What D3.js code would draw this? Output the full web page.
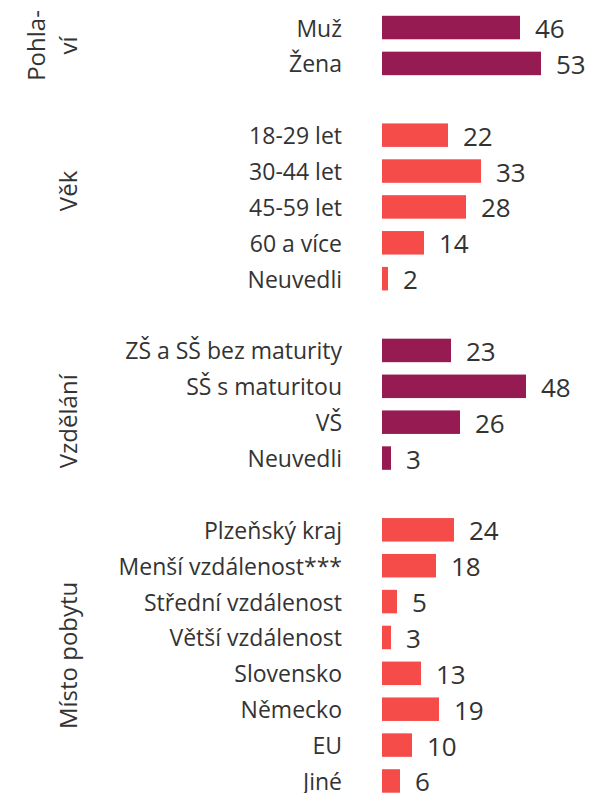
<!DOCTYPE html>
<html>
<head>
<meta charset="utf-8">
<script src="https://cdn.jsdelivr.net/npm/d3@7"></script>
<style>
  html, body { margin: 0; padding: 0; background: #fff; }
  svg { display: block; }
  text { font-family: "Open Sans", sans-serif; fill: #333; }
</style>
</head>
<body>
<svg id="chart" width="613" height="793"></svg>
<script>
// ---- data ----
const genderLabels = ["Muž", "Žena"];
const genderValues = [46, 53];
const ageLabels = ["18-29 let", "30-44 let", "45-59 let", "60 a více", "Neuvedli"];
const ageValues = [22, 33, 28, 14, 2];
const eduLabels = ["ZŠ a SŠ bez maturity", "SŠ s maturitou", "VŠ", "Neuvedli"];
const eduValues = [23, 48, 26, 3];
const placeLabels = ["Plzeňský kraj", "Menší vzdálenost***", "Střední vzdálenost", "Větší vzdálenost", "Slovensko", "Německo", "EU", "Jiné"];
const placeValues = [24, 18, 5, 3, 13, 19, 10, 6];
const groupTitles = [["Pohla-", "ví"], ["Věk"], ["Vzdělání"], ["Místo pobytu"]];
const groupColors = ["#961B52", "#F54C4A", "#961B52", "#F54C4A"];

const groups = [
  { title: groupTitles[0], labels: genderLabels, values: genderValues, color: groupColors[0] },
  { title: groupTitles[1], labels: ageLabels, values: ageValues, color: groupColors[1] },
  { title: groupTitles[2], labels: eduLabels, values: eduValues, color: groupColors[2] },
  { title: groupTitles[3], labels: placeLabels, values: placeValues, color: groupColors[3] }
];

// build slots (one empty slot between groups)
const rows = [];
let slot = 0;
groups.forEach((g, gi) => {
  g.first = slot;
  g.labels.forEach((lab, i) => {
    rows.push({ slot: slot, label: lab, value: g.values[i], color: g.color, group: gi });
    slot++;
  });
  g.last = slot - 1;
  slot++; // gap
});
const nSlots = slot - 1;

const svg = d3.select("#chart");

const y = d3.scaleBand()
  .domain(d3.range(nSlots))
  .range([9.6, 798.9])
  .paddingInner(0.345)
  .paddingOuter(0.1725);

const x = d3.scaleLinear().domain([0, 53]).range([382, 541]);

// bars
svg.append("g").selectAll("rect").data(rows).join("rect")
  .attr("x", x(0))
  .attr("y", d => y(d.slot))
  .attr("width", d => x(d.value) - x(0))
  .attr("height", y.bandwidth())
  .attr("fill", d => d.color);

// category labels
svg.append("g").selectAll("text").data(rows).join("text")
  .attr("x", 342)
  .attr("y", d => y(d.slot) + y.bandwidth() / 2 + 9)
  .attr("text-anchor", "end")
  .style("font-size", "23px")
  .text(d => d.label);

// value labels
svg.append("g").selectAll("text").data(rows).join("text")
  .attr("x", d => x(d.value) + 15)
  .attr("y", d => y(d.slot) + y.bandwidth() / 2 + 10.5)
  .style("font-size", "26px")
  .text(d => d.value);

// group titles (rotated)
const titleOffsets = [0, -16, 17, 0];
groups.forEach((g, gi) => {
  const cy = (y(g.first) + y(g.last) + y.bandwidth()) / 2 + titleOffsets[gi];
  const lines = g.title;
  const lineH = 32;
  lines.forEach((ln, li) => {
    const bx = 77 - (lines.length - 1 - li) * lineH;
    svg.append("text")
      .attr("transform", `translate(${bx},${cy}) rotate(-90)`)
      .attr("text-anchor", "middle")
      .style("font-size", "24px")
      .text(ln);
  });
});
</script>
</body>
</html>
